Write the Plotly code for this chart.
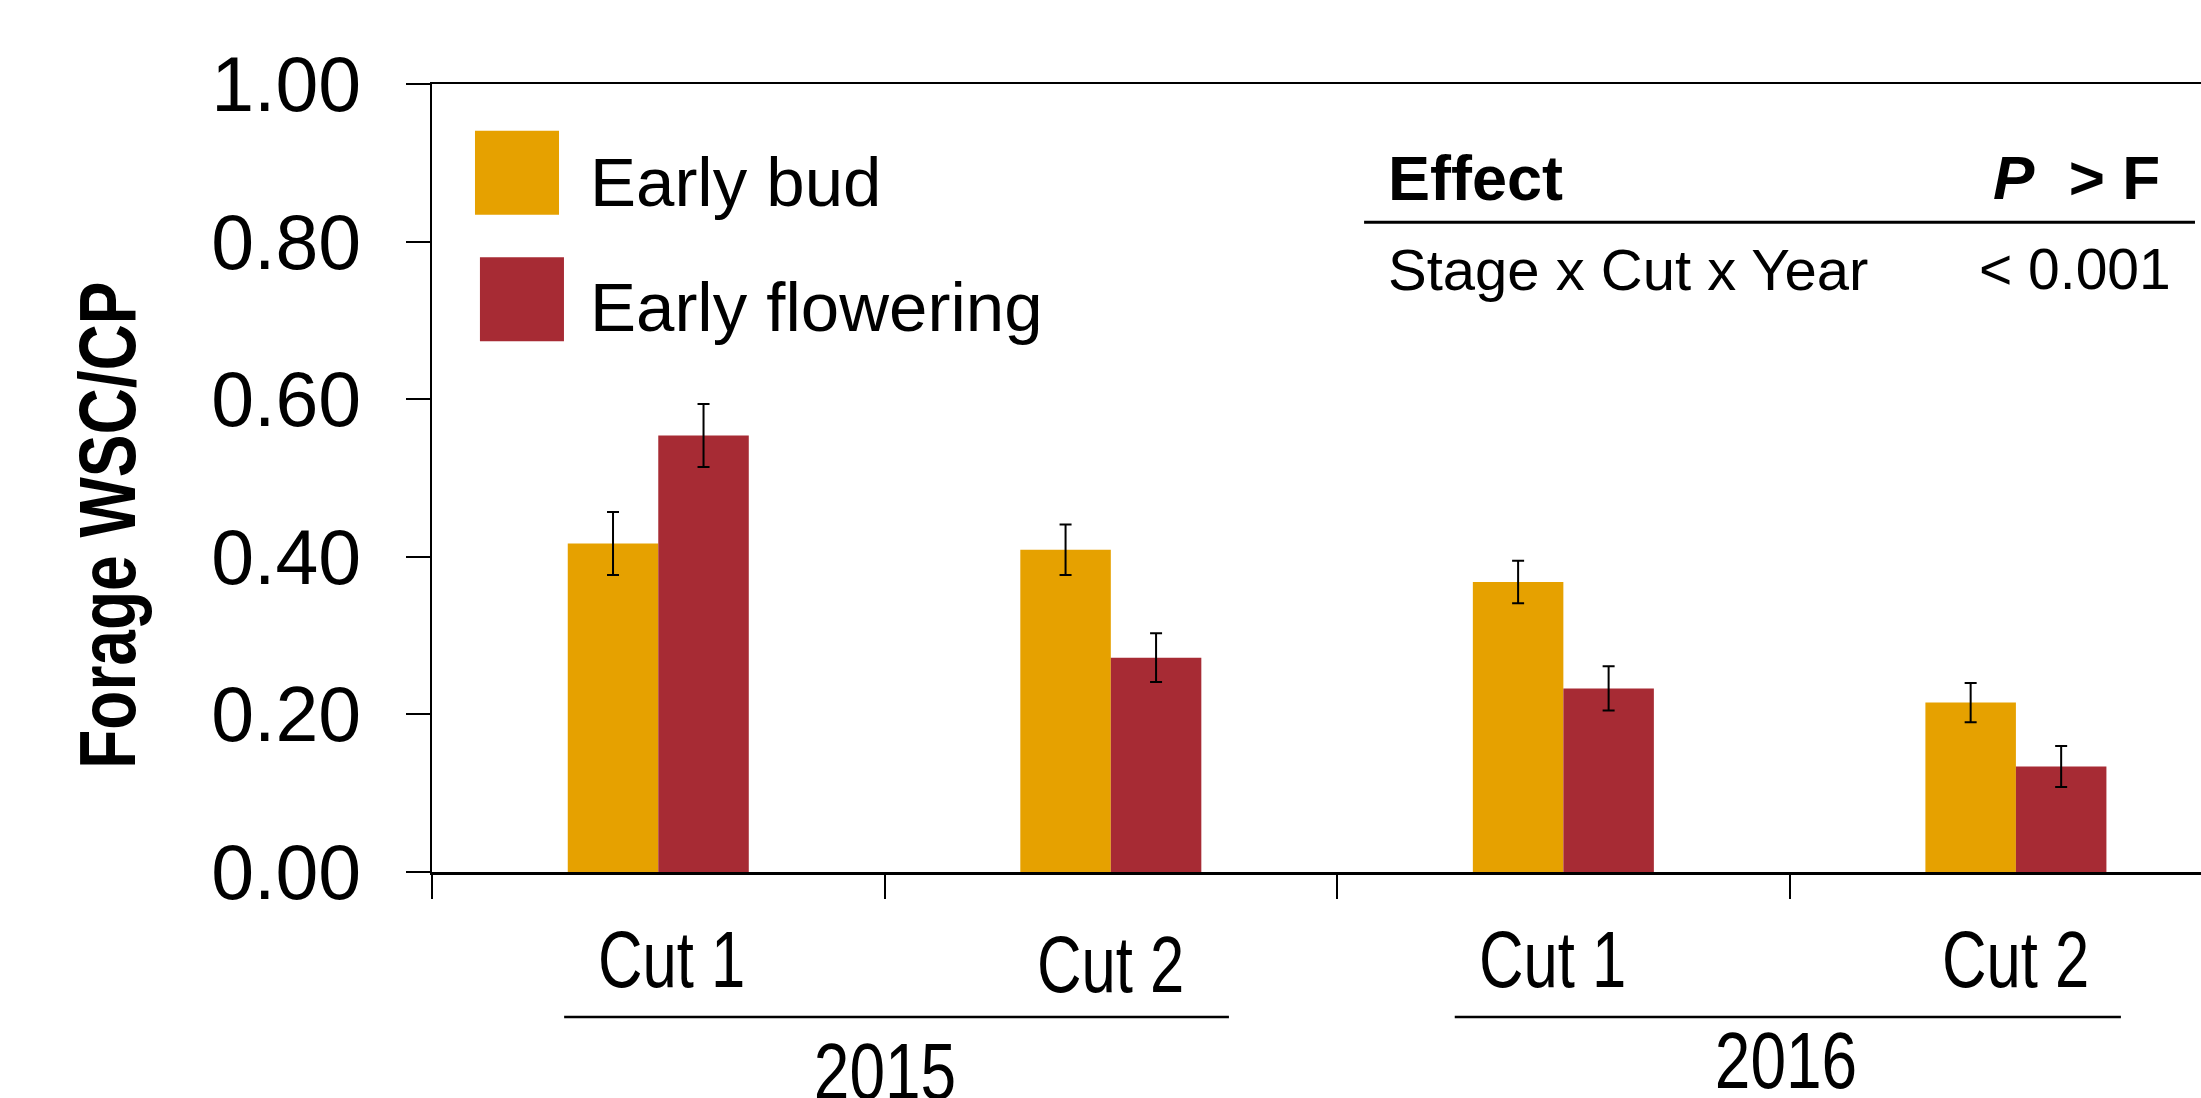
import json
import plotly.graph_objects as go

# ---- data ----
categories = [0, 1, 2, 3]                     # 2015 Cut1, 2015 Cut2, 2016 Cut1, 2016 Cut2
cut_labels = ["Cut 1", "Cut 2", "Cut 1", "Cut 2"]
year_labels = ["2015", "2016"]
series_names = ["Early bud", "Early flowering"]
early_bud = [0.417, 0.409, 0.368, 0.215]
early_bud_err = [0.040, 0.032, 0.027, 0.025]
early_flowering = [0.554, 0.272, 0.233, 0.134]
early_flowering_err = [0.040, 0.031, 0.028, 0.026]
y_ticks = [0.0, 0.2, 0.4, 0.6, 0.8, 1.0]
effect_header = ["Effect", "<i>P</i>\u00a0\u00a0> F"]
effect_row = ["Stage x Cut x Year", "< 0.001"]

# ---- style ----
YELLOW = "#E6A100"
RED = "#A72B34"
REG = "Liberation Sans, Arial, sans-serif"

fig = go.Figure()
for name, vals, errs, col in [
    (series_names[0], early_bud, early_bud_err, YELLOW),
    (series_names[1], early_flowering, early_flowering_err, RED),
]:
    fig.add_trace(go.Bar(
        x=categories, y=vals, name=name,
        marker=dict(color=col, line=dict(width=0)),
        error_y=dict(type="data", array=errs, visible=True,
                     color="black", thickness=2, width=6),
        showlegend=False,
    ))

fig.update_layout(
    width=2201, height=1098,
    margin=dict(l=432, r=0, t=84, b=226, pad=0),
    paper_bgcolor="white", plot_bgcolor="white",
    barmode="group", bargap=0.6, bargroupgap=0,
    font=dict(family=REG, color="black"),
)

fig.update_xaxes(
    range=[-0.5, 3.409], showgrid=False, zeroline=False,
    showline=True, linecolor="black", linewidth=2.5, mirror=True,
    tickvals=[-0.5, 0.5, 1.5, 2.5], ticks="outside", ticklen=24,
    tickwidth=2, tickcolor="black", showticklabels=False, automargin=False,
)
fig.update_yaxes(
    range=[0, 1], showgrid=False, zeroline=False,
    showline=True, linecolor="black", linewidth=2.5,
    tickvals=y_ticks, tickformat=".2f", ticks="outside", ticklen=24,
    tickwidth=2, tickcolor="black",
    tickfont=dict(family=REG, size=77, color="black"),
    ticklabelstandoff=29, automargin=False,
)

condense = {}  # annotation index -> horizontal scale of its text


def add_text(scale=None, **kw):
    fig.add_annotation(showarrow=False, **kw)
    if scale is not None:
        condense[len(fig.layout.annotations) - 1] = scale


# y-axis title
add_text(scale=0.80, text="<b>Forage WSC/CP</b>", textangle=-90,
         xref="paper", yref="paper", x=-0.1835, y=0.44,
         xanchor="center", yanchor="middle",
         font=dict(family=REG, size=80, color="black"))

# legend (drawn manually to match swatch size)
legend_boxes = [(0.0243, 0.0718, 0.834, 0.9408), (0.0271, 0.0746, 0.6735, 0.780)]
legend_text_y = [0.8748, 0.7166]
for (x0, x1, y0, y1), ty, name, col in zip(legend_boxes, legend_text_y, series_names, [YELLOW, RED]):
    fig.add_shape(type="rect", xref="paper", yref="paper", x0=x0, x1=x1, y0=y0, y1=y1,
                  fillcolor=col, line=dict(width=0))
    add_text(text=name, xref="paper", yref="paper", x=0.0882, y=ty,
             xanchor="left", yanchor="middle",
             font=dict(family=REG, size=69, color="black"))

# effect table
add_text(text="<b>" + effect_header[0] + "</b>", xref="paper", yref="paper",
         x=0.5395, y=0.881, xanchor="left", yanchor="middle",
         font=dict(family=REG, size=63, color="black"))
add_text(text="<b>" + effect_header[1] + "</b>", xref="paper", yref="paper",
         x=0.978, y=0.881, xanchor="right", yanchor="middle",
         font=dict(family=REG, size=62, color="black"))
fig.add_shape(type="line", xref="paper", yref="paper", x0=0.5269, x1=0.9966,
              y0=0.8245, y1=0.8245, line=dict(color="black", width=3))
add_text(text=effect_row[0], xref="paper", yref="paper",
         x=0.5395, y=0.765, xanchor="left", yanchor="middle",
         font=dict(family=REG, size=58, color="black"))
add_text(text=effect_row[1], xref="paper", yref="paper",
         x=0.984, y=0.765, xanchor="right", yanchor="middle",
         font=dict(family=REG, size=57, color="black"))

# category labels
cut_dx = [0.03, 0.0, -0.025, 0.0]
cut_y = [-0.1107, -0.117, -0.1107, -0.1107]
for c, lab, dx, yy in zip(categories, cut_labels, cut_dx, cut_y):
    add_text(scale=0.77, text=lab, xref="x", yref="paper", x=c + dx, y=yy,
             xanchor="center", yanchor="middle",
             font=dict(family=REG, size=80, color="black"))

# year group lines and labels
year_spans = [(-0.208, 1.261), (1.760, 3.232)]
year_y = [-0.2528, -0.2395]
year_dx = [-0.025, -0.005]
for (a, b), lab, yy, dx in zip(year_spans, year_labels, year_y, year_dx):
    fig.add_shape(type="line", xref="x", yref="paper", x0=a, x1=b, y0=-0.1839, y1=-0.1839,
                  line=dict(color="black", width=2.5))
    add_text(scale=0.80, text=lab, xref="x", yref="paper", x=(a + b) / 2 + dx, y=yy,
             xanchor="center", yanchor="middle",
             font=dict(family=REG, size=80, color="black"))

post = """
document.body.style.margin = '0';
document.body.style.overflow = 'hidden';
var gd = document.getElementById('{plot_id}');
var spec = %s;
function condenseText() {
  Object.keys(spec).forEach(function (k) {
    var g = gd.querySelector('g.annotation[data-index="' + k + '"]');
    if (!g) return;
    var t = g.querySelector('text.annotation-text');
    if (!t || t.getAttribute('data-cond')) return;
    var bb = t.getBBox();
    var cx = bb.x + bb.width / 2;
    var prev = t.getAttribute('transform') || '';
    t.setAttribute('transform', prev + ' translate(' + cx + ',0) scale(' + spec[k] + ',1) translate(' + (-cx) + ',0)');
    t.setAttribute('data-cond', '1');
  });
}
condenseText();
if (gd.on) gd.on('plotly_afterplot', condenseText);
""" % json.dumps({str(k): v for k, v in condense.items()})

fig.write_html("out.html", post_script=post,
               config={"displayModeBar": False, "staticPlot": True})
